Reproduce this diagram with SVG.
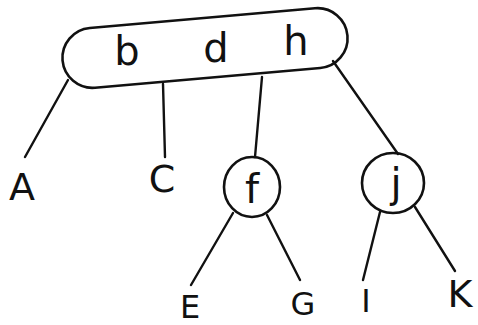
<svg xmlns="http://www.w3.org/2000/svg" width="478" height="325" viewBox="0 0 478 325">
<style>
.shape{fill:none;stroke:#111;stroke-width:2.6;stroke-linecap:round;stroke-linejoin:round}
.edge{fill:none;stroke:#111;stroke-width:2.4;stroke-linecap:round}
.lbl{font-family:"DejaVu Sans","Liberation Sans",sans-serif;fill:#111;text-anchor:middle}
.key{font-size:40px}
.leaf{font-size:38px}
.small{font-size:32px}
</style>
<rect width="478" height="325" fill="#fff"/>
<g id="connectors">
<line class="edge" x1="68" y1="80" x2="25" y2="157"/>
<line class="edge" x1="163" y1="84" x2="165" y2="157"/>
<line class="edge" x1="262" y1="77" x2="255" y2="157"/>
<line class="edge" x1="333" y1="61" x2="398" y2="154"/>
<line class="edge" x1="233" y1="213" x2="191" y2="285"/>
<line class="edge" x1="267" y1="215" x2="300" y2="280"/>
<line class="edge" x1="380" y1="212" x2="363" y2="280"/>
<line class="edge" x1="415" y1="207" x2="455" y2="271"/>
</g>
<g id="node-root">
<rect class="shape" x="62" y="18" width="286" height="60" rx="30" ry="30" transform="rotate(-5 205 48)"/>
<text class="lbl key" x="127" y="65">b</text>
<text class="lbl key" x="216" y="62">d</text>
<text class="lbl key" x="296" y="55">h</text>
</g>
<g id="node-f">
<ellipse class="shape" cx="252" cy="187" rx="28" ry="30"/>
<text class="lbl key" x="252" y="203">f</text>
</g>
<g id="node-j">
<ellipse class="shape" cx="393" cy="183" rx="31" ry="30"/>
<text class="lbl key" x="396" y="197">j</text>
</g>
<g id="leaf-A"><text class="lbl leaf" x="22" y="200">A</text></g>
<g id="leaf-C"><text class="lbl leaf" x="162" y="192">C</text></g>
<g id="leaf-E"><text class="lbl small" x="190" y="318">E</text></g>
<g id="leaf-G"><text class="lbl small" x="303" y="315">G</text></g>
<g id="leaf-I"><text class="lbl small" x="366" y="312">I</text></g>
<g id="leaf-K"><text class="lbl leaf" x="460" y="307">K</text></g>
</svg>
